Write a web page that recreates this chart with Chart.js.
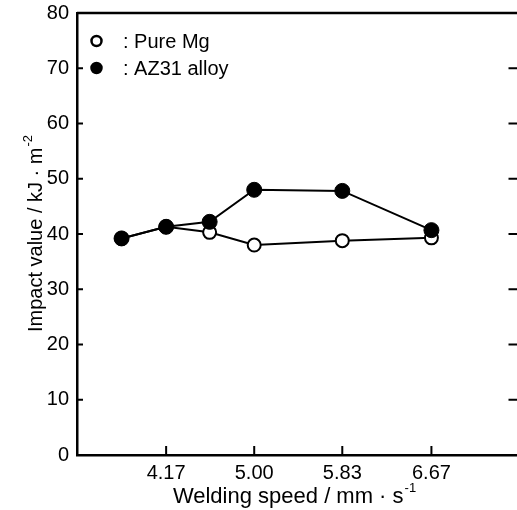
<!DOCTYPE html>
<html>
<head>
<meta charset="utf-8">
<script src="https://cdn.jsdelivr.net/npm/chart.js@4"></script>
<style>
  html, body { margin: 0; padding: 0; background: #fff; overflow: hidden; }
  #wrap { width: 528px; height: 510px; }
</style>
</head>
<body>
<div id="wrap"><canvas id="chart" width="528" height="510"></canvas></div>
<script>
const speeds = [3.75, 4.17, 4.58, 5.00, 5.83, 6.67];
const pureMg = [39.2, 41.3, 40.3, 38.0, 38.8, 39.3];
const az31 = [39.2, 41.3, 42.2, 48.0, 47.8, 40.7];
const xTicks = [4.17, 5.00, 5.83, 6.67];
const yTicks = [0, 10, 20, 30, 40, 50, 60, 70, 80];

const FONT = "'Liberation Sans', Arial, sans-serif";

const toPoints = (ys) => speeds.map((x, i) => ({ x: x, y: ys[i] }));

// frame, inward ticks, legend and axis titles
const decor = {
  id: "decor",
  afterDraw(chart) {
    const ctx = chart.ctx;
    const { left, right, top, bottom } = chart.chartArea;
    const xs = chart.scales.x;
    const ys = chart.scales.y;
    ctx.save();
    ctx.strokeStyle = "#000";
    ctx.lineWidth = 2.5;
    ctx.beginPath();
    ctx.moveTo(left, top);
    ctx.lineTo(right, top);
    ctx.lineTo(right, bottom);
    ctx.stroke();

    ctx.lineWidth = 2;
    ctx.beginPath();
    yTicks.forEach((v) => {
      const py = ys.getPixelForValue(v);
      if (v === 0 || v === 80) return;
      ctx.moveTo(left, py);
      ctx.lineTo(left + 6, py);
      ctx.moveTo(right, py);
      ctx.lineTo(right - 11, py);
    });
    xTicks.forEach((v) => {
      const px = xs.getPixelForValue(v);
      ctx.moveTo(px, bottom);
      ctx.lineTo(px, bottom - 9);
    });
    ctx.stroke();

    // legend inside plot
    const items = [
      { ds: chart.data.datasets[1], y: 41 },
      { ds: chart.data.datasets[0], y: 68 }
    ];
    ctx.font = "20px " + FONT;
    ctx.textBaseline = "middle";
    ctx.textAlign = "left";
    items.forEach((it) => {
      ctx.beginPath();
      ctx.arc(96.5, it.y, 5, 0, Math.PI * 2);
      ctx.fillStyle = it.ds.pointBackgroundColor;
      ctx.fill();
      ctx.lineWidth = 2.5;
      ctx.strokeStyle = "#000";
      ctx.stroke();
      ctx.fillStyle = "#000";
      ctx.fillText(": " + it.ds.label, 123, it.y + 1);
    });

    // x title with superscript
    const xMain = "Welding speed / mm \u00b7 s";
    const xSup = "-1";
    ctx.font = "22px " + FONT;
    const wMain = ctx.measureText(xMain).width;
    ctx.font = "13px " + FONT;
    const wSup = ctx.measureText(xSup).width;
    const sx = 294 - (wMain + wSup) / 2;
    ctx.textBaseline = "alphabetic";
    ctx.font = "22px " + FONT;
    ctx.fillText(xMain, sx, 503);
    ctx.font = "13px " + FONT;
    ctx.fillText(xSup, sx + wMain + 1, 492);

    // y title rotated with superscript
    const yMain = "Impact value / kJ \u00b7 m";
    const ySup = "-2";
    ctx.font = "20px " + FONT;
    const wy = ctx.measureText(yMain).width;
    ctx.font = "13px " + FONT;
    const wys = ctx.measureText(ySup).width;
    ctx.translate(42, 234);
    ctx.rotate(-Math.PI / 2);
    const sy = -(wy + wys) / 2;
    ctx.font = "20px " + FONT;
    ctx.fillText(yMain, sy, 0);
    ctx.font = "13px " + FONT;
    ctx.fillText(ySup, sy + wy + 1, -10);
    ctx.restore();
  }
};

new Chart(document.getElementById("chart"), {
  type: "line",
  data: {
    datasets: [
      {
        label: "AZ31 alloy",
        data: toPoints(az31),
        borderColor: "#000",
        borderWidth: 2,
        pointRadius: 7.5,
        pointBackgroundColor: "#000",
        pointBorderColor: "#000",
        pointBorderWidth: 1,
        order: 0
      },
      {
        label: "Pure Mg",
        data: toPoints(pureMg),
        borderColor: "#000",
        borderWidth: 2,
        pointRadius: 6.5,
        pointBackgroundColor: "#fff",
        pointBorderColor: "#000",
        pointBorderWidth: 2,
        order: 1
      }
    ]
  },
  options: {
    responsive: false,
    animation: false,
    layout: { padding: { top: 13, right: 3, left: 0, bottom: 0 } },
    plugins: { legend: { display: false }, tooltip: { enabled: false } },
    scales: {
      x: {
        type: "linear",
        min: 3.33,
        max: 7.5,
        afterBuildTicks: (scale) => { scale.ticks = xTicks.map((v) => ({ value: v })); },
        afterFit: (scale) => { scale.height = 55; scale.paddingRight = 0; },
        grid: { display: false, drawTicks: false },
        border: { display: true, color: "#000", width: 2.5 },
        ticks: {
          padding: 6,
          color: "#000",
          font: { family: FONT, size: 20 },
          callback: (v) => Number(v).toFixed(2)
        }
      },
      y: {
        min: 0,
        max: 80,
        afterBuildTicks: (scale) => { scale.ticks = yTicks.map((v) => ({ value: v })); },
        afterFit: (scale) => { scale.width = 77; scale.paddingTop = 0; },
        grid: { display: false, drawTicks: false },
        border: { display: true, color: "#000", width: 2.5 },
        ticks: {
          padding: 8,
          color: "#000",
          font: { family: FONT, size: 20 }
        }
      }
    }
  },
  plugins: [decor]
});
</script>
</body>
</html>
